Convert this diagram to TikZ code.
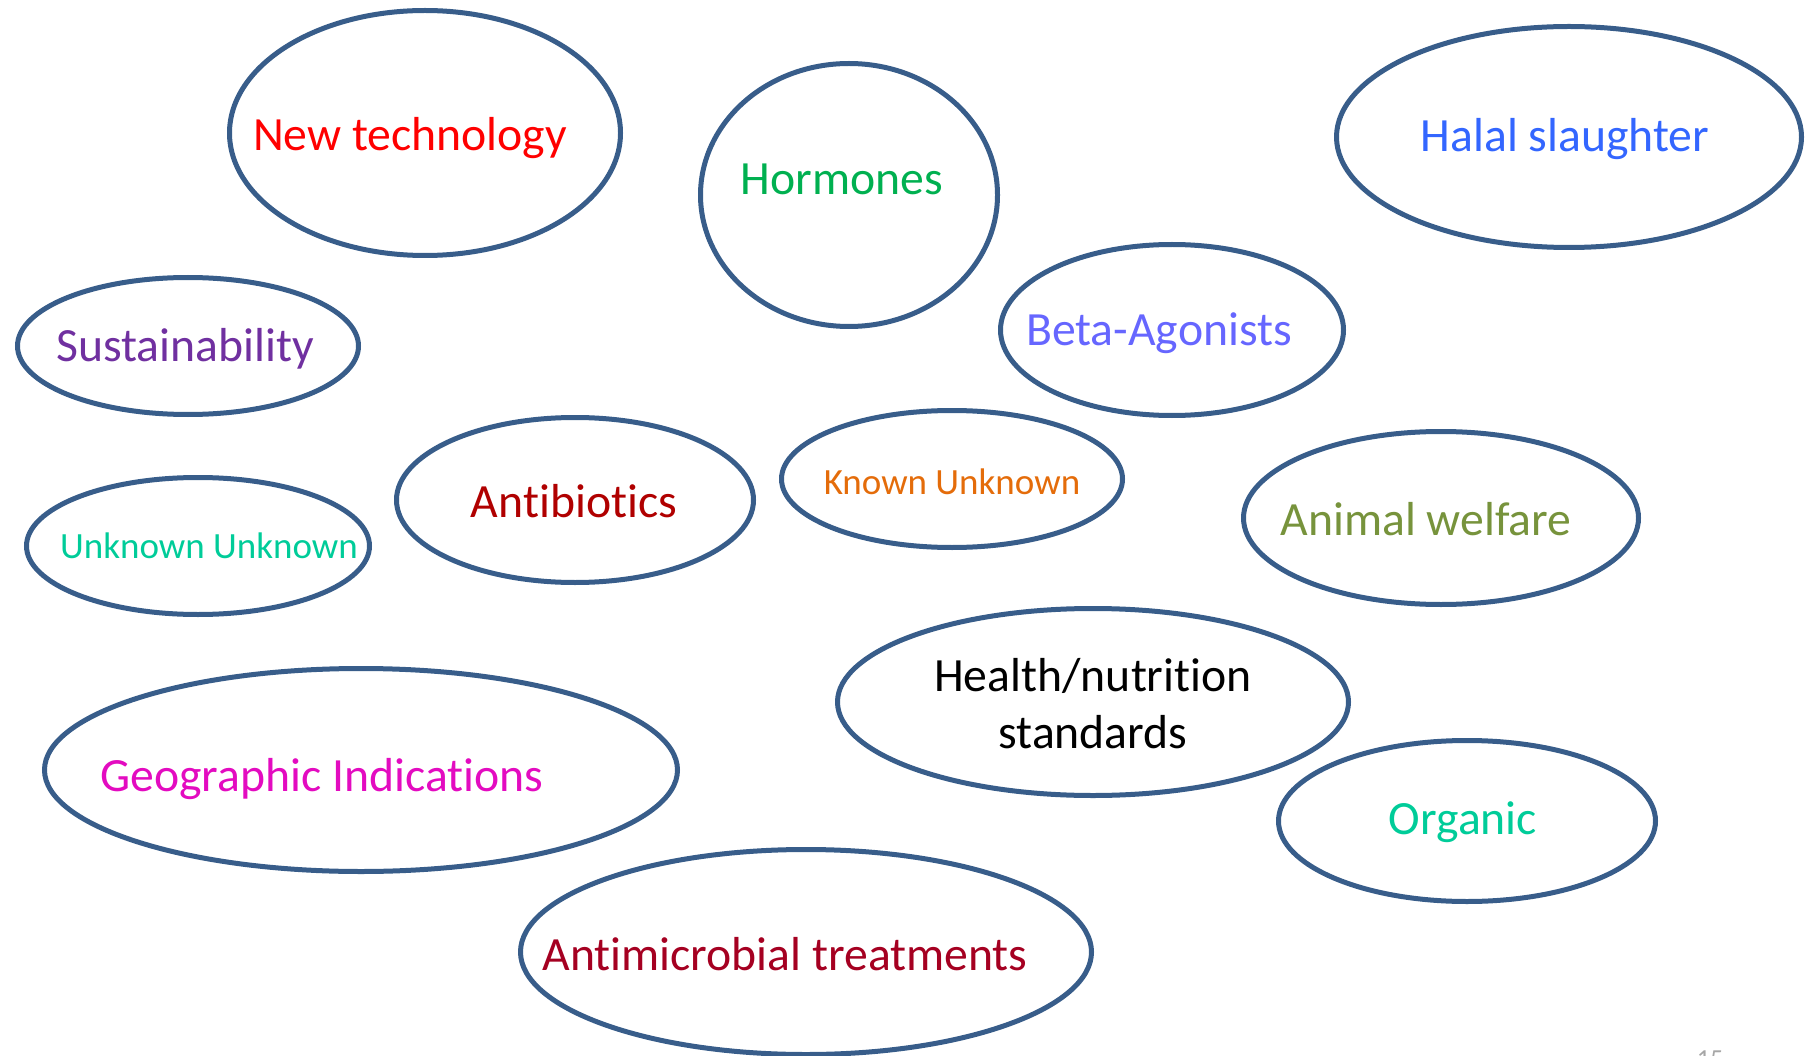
\documentclass[tikz,border=0pt]{standalone}
\usepackage{fontspec}
\setmainfont{Carlito}[Ligatures={NoCommon,NoRare,NoContextual}]
\usetikzlibrary{shapes.geometric}

\definecolor{rim}{HTML}{385D8A}
\definecolor{techred}{HTML}{FF0000}
\definecolor{hormgreen}{HTML}{00B050}
\definecolor{halalblue}{HTML}{3366FF}
\definecolor{sustpurple}{HTML}{7030A0}
\definecolor{betablue}{HTML}{6666FF}
\definecolor{abred}{HTML}{B00000}
\definecolor{knownorange}{HTML}{E46C0A}
\definecolor{teal}{HTML}{00CC99}
\definecolor{olive}{HTML}{77933C}
\definecolor{geopink}{HTML}{E30BC0}
\definecolor{crimson}{HTML}{A50021}

\begin{document}
\begin{tikzpicture}[x=1pt, y=-1pt,
    bubble/.style={ellipse, draw=rim, line width=5pt, inner sep=0pt},
    word/.style={font=\fontsize{47.7}{57}\selectfont, align=center, inner sep=0pt},
    smallword/.style={font=\fontsize{37}{44}\selectfont, inner sep=0pt}
]
    \useasboundingbox (0,0) rectangle (1809,1056);

    % bubbles
    \node[bubble, minimum width=391pt, minimum height=245pt] (tech) at (425,133) {};
    \node[bubble, minimum width=297pt, minimum height=263pt] (horm) at (849,195) {};
    \node[bubble, minimum width=465pt, minimum height=221pt] (halal) at (1569,137) {};
    \node[bubble, minimum width=341pt, minimum height=137pt] (sust) at (188,346) {};
    \node[bubble, minimum width=343pt, minimum height=171pt] (beta) at (1172,330) {};
    \node[bubble, minimum width=357pt, minimum height=165pt] (abio) at (575,500) {};
    \node[bubble, minimum width=341pt, minimum height=137pt] (known) at (952,479) {};
    \node[bubble, minimum width=343pt, minimum height=137pt] (unknown) at (198,546) {};
    \node[bubble, minimum width=395pt, minimum height=173pt] (welfare) at (1441,518) {};
    \node[bubble, minimum width=511pt, minimum height=187pt] (health) at (1093,702) {};
    \node[bubble, minimum width=633pt, minimum height=203pt] (geo) at (361,770) {};
    \node[bubble, minimum width=377pt, minimum height=161pt] (organic) at (1467,821) {};
    \node[bubble, minimum width=571pt, minimum height=205pt] (amt) at (806,952) {};

    % labels
    \node[word, text=techred] (techtext) at ([shift={(-15,5)}]tech) {New technology};
    \node[word, text=hormgreen] (hormtext) at ([shift={(-7,-16)}]horm) {Hormones};
    \node[word, text=halalblue] (halaltext) at ([shift={(-4,2)}]halal) {Halal slaughter};
    \node[word, text=sustpurple] (susttext) at ([shift={(-3,3)}]sust) {Sustainability};
    \node[word, text=betablue] (betatext) at ([shift={(-13,3)}]beta) {Beta-Agonists};
    \node[word, text=abred] (abiotext) at ([shift={(-1,1)}]abio) {Antibiotics};
    \node[smallword, text=knownorange] (knowntext) at ([shift={(0,3)}]known) {Known Unknown};
    \node[smallword, text=teal] (unknowntext) at ([shift={(11,0)}]unknown) {Unknown Unknown};
    \node[word, text=olive] (welfaretext) at ([shift={(-15,1)}]welfare) {Animal welfare};
    \node[word, text=black] (healthtext) at ([shift={(0,2)}]health) {Health/nutrition\\standards};
    \node[word, text=geopink] (geotext) at ([shift={(-39,9)}]geo) {Geographic Indications};
    \node[word, text=teal] (organictext) at ([shift={(-4,1)}]organic) {Organic};
    \node[word, text=crimson] (amttext) at ([shift={(-21,2)}]amt) {Antimicrobial treatments};

    \node[anchor=north, inner sep=0pt, text=gray!70, font=\fontsize{26}{30}\selectfont] (pagenum) at (1710,1051) {15};
\end{tikzpicture}
\end{document}
